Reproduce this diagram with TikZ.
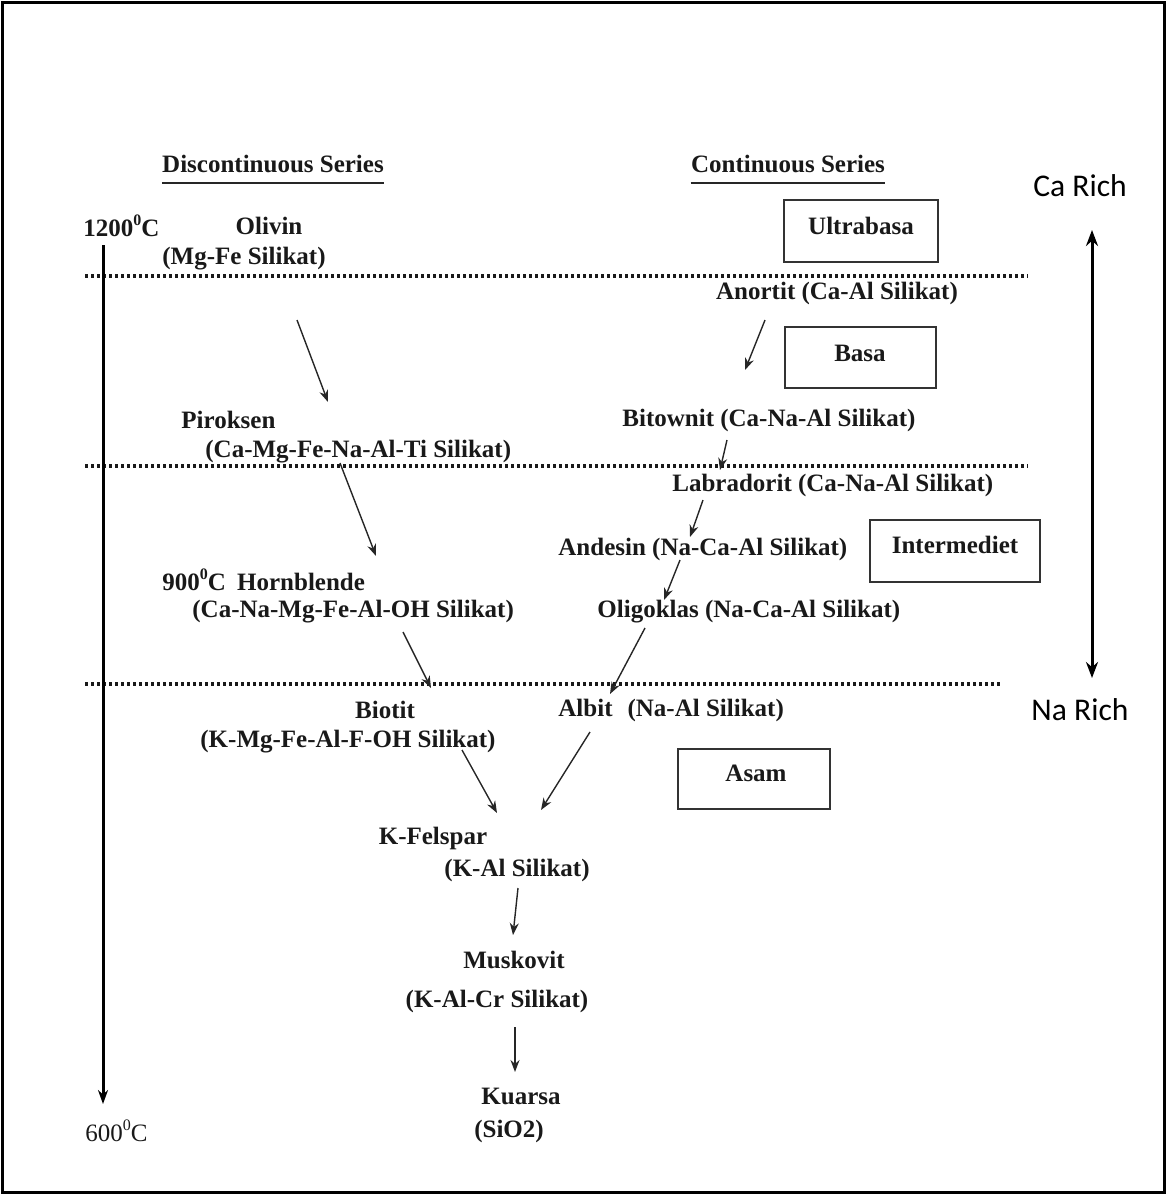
\documentclass[tikz,border=0pt]{standalone}
\usepackage{fontspec}
\setmainfont{Liberation Serif}
\newfontfamily\calib{Carlito}
\usetikzlibrary{arrows.meta}
\newcommand\supzero{\raisebox{1.0ex}{\fontsize{8}{9}\selectfont 0}}
\begin{document}
\begin{tikzpicture}[x=0.5pt,y=-0.5pt,
  lbl/.style={font=\fontsize{12.5}{14}\selectfont\bfseries, inner sep=0pt, text=black!90},
  side/.style={font=\calib\fontsize{15.8}{18}\selectfont, inner sep=0pt},
  boxn/.style={draw=black!80, line width=0.9pt, inner sep=0pt},
  flow/.style={-{Stealth[length=6pt,width=4.5pt]}, line width=0.7pt, black!85},
  dotline/.style={line width=1.6pt, dash pattern=on 1.4pt off 1.6pt, black!90},
  ulin/.style={line width=1.1pt, black!85},
  ]
\useasboundingbox (0,0) rectangle (1166,1194);
\draw[line width=1.5pt] (2,2) rectangle (1164,1192);

% dotted separators
\coordinate (d1a) at (85,276);  \coordinate (d1b) at (1028,276);
\coordinate (d2a) at (85,466);  \coordinate (d2b) at (1028,466);
\coordinate (d3a) at (85,684);  \coordinate (d3b) at (1000,684);
\draw[dotline] (d1a) -- (d1b);
\draw[dotline] (d2a) -- (d2b);
\draw[dotline] (d3a) -- (d3b);

% headings
\node[lbl] (disc) at (273,164) {Discontinuous Series};
\draw[ulin] ([yshift=-5pt]disc.south west) -- ([yshift=-5pt]disc.south east);
\node[lbl] (cont) at (788,164) {Continuous Series};
\draw[ulin] ([yshift=-5pt]cont.south west) -- ([yshift=-5pt]cont.south east);

% temperature axis
\node[lbl, anchor=west] (t1200) at (83,226) {1200\supzero C};
\node[lbl, anchor=west, font=\fontsize{12.5}{14}\selectfont\mdseries] (t600) at (85,1131) {600\supzero C};
\coordinate (axtop) at (103,245);
\coordinate (axbot) at (103,1104);
\draw[line width=1.5pt, -{Stealth[length=7pt,width=5pt]}] (axtop) -- (axbot);

% Ca / Na rich
\node[side] (carich) at (1080,186) {Ca Rich};
\node[side] (narich) at (1080,710) {Na Rich};
\coordinate (rtop) at (1092,230);
\coordinate (rbot) at (1092,678);
\draw[line width=1.5pt, {Stealth[length=8pt,width=6pt]}-{Stealth[length=8pt,width=6pt]}] (rtop) -- (rbot);

% discontinuous series
\node[lbl] (olivin) at (269,226) {Olivin};
\node[lbl, anchor=west] (olivinf) at (162,259) {(Mg-Fe Silikat)};
\node[lbl, anchor=west] (pirok) at (181,420) {Piroksen};
\node[lbl, anchor=west] (pirokf) at (205,452) {(Ca-Mg-Fe-Na-Al-Ti Silikat)};
\node[lbl, anchor=west] (horn) at (162,580) {900\supzero C\hspace{0.45em}Hornblende};
\node[lbl, anchor=west] (hornf) at (192,612) {(Ca-Na-Mg-Fe-Al-OH Silikat)};
\node[lbl] (biotit) at (385,710) {Biotit};
\node[lbl, anchor=west] (biotitf) at (200,742) {(K-Mg-Fe-Al-F-OH Silikat)};

% continuous series
\node[lbl] (anort) at (837,293) {Anortit (Ca-Al Silikat)};
\node[lbl, anchor=west] (bitow) at (622,420) {Bitownit (Ca-Na-Al Silikat)};
\node[lbl, anchor=west] (labra) at (672,485) {Labradorit (Ca-Na-Al Silikat)};
\node[lbl, anchor=west] (andes) at (558,549) {Andesin (Na-Ca-Al Silikat)};
\node[lbl, anchor=west] (oligo) at (597,612) {Oligoklas (Na-Ca-Al Silikat)};
\node[lbl, anchor=west] (albit) at (558,710) {Albit\hspace{0.6em}(Na-Al Silikat)};

% common
\node[lbl] (kfel) at (433,838) {K-Felspar};
\node[lbl] (kfelf) at (517,870) {(K-Al Silikat)};
\node[lbl] (musk) at (514,960) {Muskovit};
\node[lbl] (muskf) at (497,1001) {(K-Al-Cr Silikat)};
\node[lbl] (kuar) at (521,1096) {Kuarsa};
\node[lbl] (kuarf) at (509,1131) {(SiO2)};

% rock-type boxes
\node[boxn, minimum width=77pt, minimum height=31pt] (ultra) at (861,231) {};
\node[lbl] (ultrat) at (861,226) {Ultrabasa};
\node[boxn, minimum width=75.5pt, minimum height=30.5pt] (basa) at (860.5,357.5) {};
\node[lbl] (basat) at (860,353) {Basa};
\node[boxn, minimum width=85pt, minimum height=31pt] (inter) at (955,551) {};
\node[lbl] (intert) at (955,545) {Intermediet};
\node[boxn, minimum width=76pt, minimum height=30pt] (asam) at (754,779) {};
\node[lbl] (asamt) at (756,773) {Asam};

% arrow end points
\coordinate (a1s) at (297,320);  \coordinate (a1e) at (328,402);
\coordinate (a2s) at (340,463);  \coordinate (a2e) at (376,556);
\coordinate (a3s) at (403,632);  \coordinate (a3e) at (431,688);
\coordinate (a4s) at (462,750);  \coordinate (a4e) at (497,813);
\coordinate (b1s) at (765,320);  \coordinate (b1e) at (745,370);
\coordinate (b2s) at (727,440);  \coordinate (b2e) at (720,470);
\coordinate (b3s) at (703,500);  \coordinate (b3e) at (690,537);
\coordinate (b4s) at (680,560);  \coordinate (b4e) at (664,600);
\coordinate (b5s) at (645,628);  \coordinate (b5e) at (610,694);
\coordinate (b6s) at (590,732);  \coordinate (b6e) at (541,810);
\coordinate (c1s) at (518,888);  \coordinate (c1e) at (513,935);
\coordinate (c2s) at (515,1027); \coordinate (c2e) at (515,1072);

\draw[flow] (a1s) -- (a1e);
\draw[flow] (a2s) -- (a2e);
\draw[flow] (a3s) -- (a3e);
\draw[flow] (a4s) -- (a4e);
\draw[flow] (b1s) -- (b1e);
\draw[flow] (b2s) -- (b2e);
\draw[flow] (b3s) -- (b3e);
\draw[flow] (b4s) -- (b4e);
\draw[flow] (b5s) -- (b5e);
\draw[flow] (b6s) -- (b6e);
\draw[flow] (c1s) -- (c1e);
\draw[flow] (c2s) -- (c2e);
\end{tikzpicture}
\end{document}
